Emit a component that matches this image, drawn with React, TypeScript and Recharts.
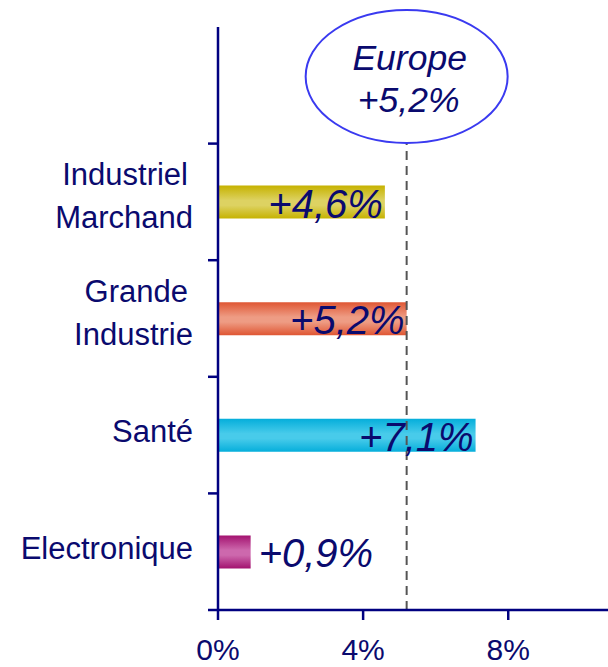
import React from "react";
import { BarChart, Bar, XAxis, YAxis, Cell, LabelList, ReferenceLine } from "recharts";

// sectors, top row left empty for the Europe bubble
const sectors = ["", "Industriel\nMarchand", "Grande\nIndustrie", "Santé", "Electronique"];
const growth = [null, 4.6, 5.2, 7.1, 0.9];
const europeGrowth = 5.2;
const xTicks = [0, 4, 8];

const barColors = [
    ["#c6b200", "#ddd262"],
    ["#c6b200", "#ddd262"],
    ["#df5633", "#ee9c84"],
    ["#05aedb", "#48cbea"],
    ["#a3126f", "#cd68ad"],
];

const NAVY = "#000080";
const TEXT = "#0a0a6e";
const FONT = "'Liberation Sans', Arial, sans-serif";

const W = 608;
const H = 667;
const TOP = 27;
const AXIS_Y = 610;
const BAND = (AXIS_Y - TOP) / sectors.length;

const data = sectors.map((name, i) => ({ name, value: growth[i] }));

const fmt = (v: number) => "+" + v.toFixed(1).replace(".", ",") + "%";

function SectorTick(props: any) {
    const { y, payload } = props;
    const lines = String(payload.value).split("\n").filter(s => s.length);
    const yb = y + BAND / 2;
    return (
        <g>
            <line x1={208} x2={218} y1={yb} y2={yb} stroke={NAVY} strokeWidth={2.5} />
            {lines.length === 2 ? (
                <text x={193} textAnchor="end" fontSize={31} fill={TEXT} fontFamily={FONT}>
                    <tspan x={188} y={y - 17}>{lines[0]}</tspan>
                    <tspan x={193} y={y + 26}>{lines[1]}</tspan>
                </text>
            ) : lines.length === 1 ? (
                <text x={193} y={y + 7} textAnchor="end" fontSize={31} fill={TEXT} fontFamily={FONT}>
                    {lines[0]}
                </text>
            ) : null}
        </g>
    );
}

function ValueLabel(props: any) {
    const { x, y, width, height, value } = props;
    if (value == null) return null;
    const inside = value > 2;
    return (
        <text
            x={inside ? x + width - 2 : x + width + 8}
            y={y + height - 1}
            textAnchor={inside ? "end" : "start"}
            fontSize={40}
            fontStyle="italic"
            fill={TEXT}
            fontFamily={FONT}
        >
            {fmt(value)}
        </text>
    );
}

function EuropeBubble(props: any) {
    const { viewBox } = props;
    const cx = viewBox.x;
    const cy = 76.5;
    return (
        <g>
            <ellipse cx={cx} cy={cy} rx={101} ry={66.5} fill="#ffffff" stroke="#3a3af0" strokeWidth={2} />
            <text x={cx + 3} y={70} textAnchor="middle" fontSize={35.5} fontStyle="italic" fill={TEXT} fontFamily={FONT}>
                Europe
            </text>
            <text x={cx + 2} y={112} textAnchor="middle" fontSize={35.5} fontStyle="italic" fill={TEXT} fontFamily={FONT}>
                {fmt(europeGrowth)}
            </text>
        </g>
    );
}

export default function App() {
    return (
        <div style={{ position: "absolute", left: 0, top: 0, width: W, height: H, background: "#fff" }}>
            <BarChart
                width={W}
                height={H}
                data={data}
                layout="vertical"
                margin={{ top: TOP, right: 0, left: 0, bottom: 0 }}
                barCategoryGap={0}
            >
                <defs>
                    {barColors.map((c, i) => (
                        <linearGradient key={i} id={"bar" + i} x1="0" y1="0" x2="0" y2="1">
                            <stop offset="0%" stopColor={c[0]} />
                            <stop offset="45%" stopColor={c[1]} />
                            <stop offset="60%" stopColor={c[1]} />
                            <stop offset="100%" stopColor={c[0]} />
                        </linearGradient>
                    ))}
                </defs>
                <XAxis
                    type="number"
                    domain={[0, 10.75]}
                    ticks={xTicks}
                    tickFormatter={(v: number) => v + "%"}
                    height={H - AXIS_Y}
                    axisLine={{ stroke: NAVY, strokeWidth: 2.5 }}
                    tickLine={{ stroke: NAVY, strokeWidth: 2.5 }}
                    tickSize={10}
                    tickMargin={19}
                    tick={{ fontSize: 30, fill: TEXT, fontFamily: FONT }}
                    allowDataOverflow
                />
                <YAxis
                    type="category"
                    dataKey="name"
                    width={218}
                    axisLine={{ stroke: NAVY, strokeWidth: 2.5 }}
                    tickLine={false}
                    tick={<SectorTick />}
                    interval={0}
                />
                <Bar dataKey="value" barSize={33} isAnimationActive={false}>
                    {data.map((d, i) => (
                        <Cell key={i} fill={"url(#bar" + i + ")"} />
                    ))}
                    <LabelList dataKey="value" content={<ValueLabel />} />
                </Bar>
                <ReferenceLine
                    x={europeGrowth}
                    stroke="#555555"
                    strokeWidth={2}
                    strokeDasharray="9 6"
                    label={<EuropeBubble />}
                />
            </BarChart>
        </div>
    );
}
